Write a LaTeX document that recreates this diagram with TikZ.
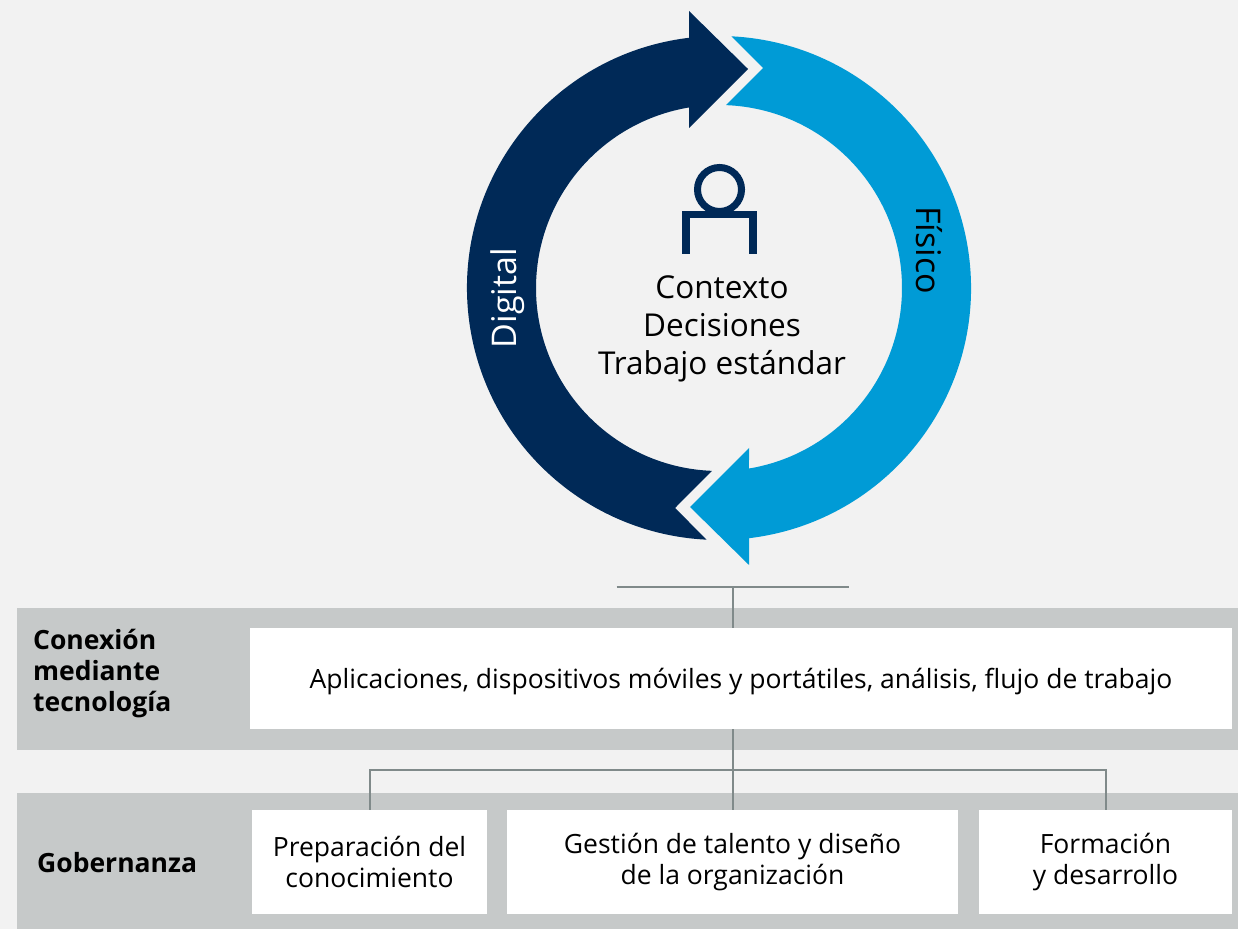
\documentclass[tikz,border=0pt]{standalone}
\usepackage{fontspec}
\setmainfont{Open Sans}
\definecolor{fondo}{RGB}{242,242,242}
\definecolor{franja}{RGB}{198,201,201}
\definecolor{marino}{RGB}{0,41,87}
\definecolor{celeste}{RGB}{0,155,214}
\definecolor{linea}{RGB}{128,138,138}
\tikzset{
  caja/.style={fill=white, inner sep=0pt, align=center, font=\fontsize{26.5}{31}\selectfont},
  rotulo/.style={anchor=west, inner sep=0pt, align=left, font=\fontsize{26.5}{31}\selectfont\bfseries},
  conector/.style={draw=linea, line width=2},
  centro/.style={align=center, font=\fontsize{31.5}{38}\selectfont},
  giro/.style={font=\fontsize{34}{38}\selectfont}
}
\begin{document}
\begin{tikzpicture}[x=1pt,y=1pt]
\fill[fondo] (0,0) rectangle (1238,929);
\useasboundingbox (0,0) rectangle (1238,929);

\foreach \col/\rot in {marino/0, celeste/180}
  \fill[\col, shift={(719,641)}, rotate=\rot] (29,219) -- (-30,277) -- (-30,250.2)
    arc[start angle=96.83, end angle=267.2, radius=252] -- (-44,-220) -- (267.8:183)
    arc[start angle=267.8, end angle=99.43, radius=183] -- (-30,160) -- cycle;

\draw[marino, line width=7] (719.5,739.5) circle (22);
\draw[marino, line width=7.5] (686,675) -- (686,714.5) -- (753,714.5) -- (753,675);
\node[centro] (ctx) at (722,600) {Contexto\\Decisiones\\Trabajo estándar};
\node[giro, rotate=90, text=white] (dig) at (508,631) {Digital};
\node[giro, rotate=-90] (fis) at (929,679) {Físico};

\fill[franja] (17,179) rectangle (1238,321);
\fill[franja] (17,0) rectangle (1238,136);

\node[rotulo] (conex) at (33,255) {Conexión\\mediante\\tecnología};
\node[rotulo] (gob) at (37,66) {Gobernanza};
\node[caja, minimum width=982, minimum height=101, text depth=0pt] (tec) at (741,250.5) {Aplicaciones, dispositivos móviles y portátiles, análisis, flujo de trabajo};
\node[caja, minimum width=235, minimum height=104] (prep) at (369.5,67) {Preparación del\\conocimiento};
\node[caja, minimum width=451, minimum height=104] (gest) at (732.5,67) {Gestión de talento y diseño\\de la organización};
\node[caja, minimum width=253, minimum height=104] (form) at (1105.5,67) {Formación\\y desarrollo};

\draw[conector] (gest.north |- tec.north) -- ++(0,41) coordinate (barra);
\draw[conector] ([xshift=-116]barra) -- ([xshift=116]barra);
\draw[conector] (gest.north |- tec.south) -- (gest.north);
\draw[conector] (prep.north) -- ++(0,40) -| (form.north);
\end{tikzpicture}
\end{document}
